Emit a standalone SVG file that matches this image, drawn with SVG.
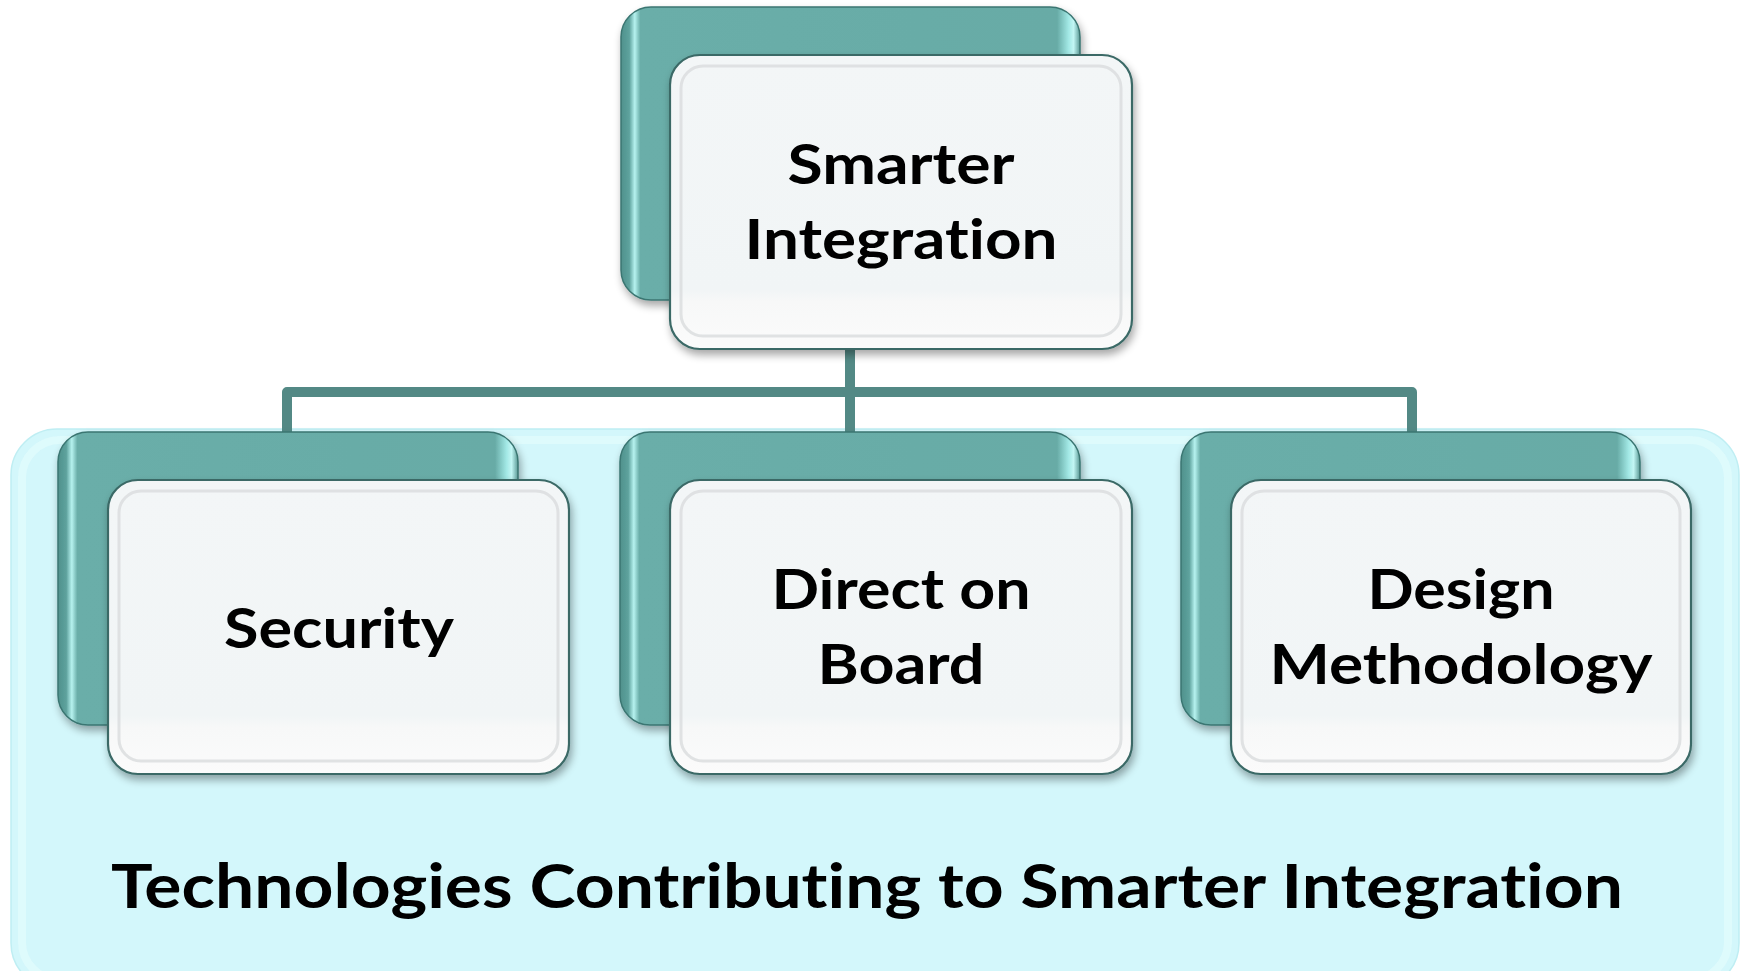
<svg xmlns="http://www.w3.org/2000/svg" width="1743" height="971" viewBox="0 0 1743 971">
<defs>
<linearGradient id="backG" x1="0" y1="0" x2="1" y2="0">
<stop offset="0" stop-color="#4f918c"/>
<stop offset="0.018" stop-color="#5ea29d"/>
<stop offset="0.03" stop-color="#b6f2ef"/>
<stop offset="0.042" stop-color="#6aaea9"/>
<stop offset="0.95" stop-color="#67aba6"/>
<stop offset="0.975" stop-color="#a2e8e5"/>
<stop offset="0.986" stop-color="#c2f6f4"/>
<stop offset="1" stop-color="#5a9995"/>
</linearGradient>
<linearGradient id="frontG" x1="0" y1="0" x2="0" y2="1">
<stop offset="0" stop-color="#f3f6f7"/>
<stop offset="0.8" stop-color="#f1f5f6"/>
<stop offset="0.84" stop-color="#f7f8f8"/>
<stop offset="1" stop-color="#fbfbfb"/>
</linearGradient>
<filter id="sh" x="-10%" y="-10%" width="125%" height="130%">
<feGaussianBlur in="SourceAlpha" stdDeviation="4"/>
<feOffset dx="2" dy="5" result="b"/>
<feComponentTransfer><feFuncA type="linear" slope="0.35"/></feComponentTransfer>
<feMerge><feMergeNode/><feMergeNode in="SourceGraphic"/></feMerge>
</filter>
<style>
.back{fill:url(#backG);stroke:#3b7672;stroke-width:1.5}
.front{fill:url(#frontG);stroke:#3a6966;stroke-width:2.2}
.inner{fill:none;stroke:#d9dcdd;stroke-width:3;opacity:0.8}
.lbl{font-family:Lato,"Open Sans","Liberation Sans",sans-serif;font-weight:700;fill:#000;text-anchor:middle;font-variant-ligatures:none;font-feature-settings:"liga" 0,"clig" 0}
.conn{fill:none;stroke:#538985;stroke-width:10;stroke-linejoin:round}
</style>
</defs>
<rect width="1743" height="971" fill="#ffffff"/>

<g id="panel">
<rect x="11" y="429" width="1728" height="560" rx="46" fill="#d3f7fb" stroke="#bfeef3" stroke-width="1.5"/>
<rect x="22" y="440" width="1706" height="540" rx="38" fill="none" stroke="#e1fbfd" stroke-width="8" opacity="0.8"/>
<text class="lbl" x="867" y="908" font-size="62" textLength="1512" lengthAdjust="spacingAndGlyphs">Technologies Contributing to Smarter Integration</text>
</g>

<g id="connectors">
<line x1="850" y1="300" x2="850" y2="349" stroke="#c9dcdb" stroke-width="10" opacity="0.6"/>
<path class="conn" d="M850 349 V392 M287 432 V392 H1412 V432 M850 392 V432"/>
</g>

<g id="node-smarter-integration">
<rect class="back" x="621" y="7" width="459" height="293" rx="30" filter="url(#sh)"/>
<rect class="front" x="670" y="55" width="462" height="294" rx="30" filter="url(#sh)"/>
<rect class="inner" x="681" y="66" width="440" height="270" rx="22"/>
<text class="lbl" font-size="56" x="901" y="184" textLength="227" lengthAdjust="spacingAndGlyphs">Smarter</text>
<text class="lbl" font-size="56" x="901" y="259" textLength="313" lengthAdjust="spacingAndGlyphs">Integration</text>
</g>

<g id="node-security">
<rect class="back" x="58" y="432" width="460" height="293" rx="30" filter="url(#sh)"/>
<rect class="front" x="108" y="480" width="461" height="294" rx="30" filter="url(#sh)"/>
<rect class="inner" x="119" y="491" width="439" height="270" rx="22"/>
<text class="lbl" font-size="56" x="339" y="648" textLength="230" lengthAdjust="spacingAndGlyphs">Security</text>
</g>

<g id="node-direct-on-board">
<rect class="back" x="620" y="432" width="460" height="293" rx="30" filter="url(#sh)"/>
<rect class="front" x="670" y="480" width="462" height="294" rx="30" filter="url(#sh)"/>
<rect class="inner" x="681" y="491" width="440" height="270" rx="22"/>
<text class="lbl" font-size="56" x="901" y="609" textLength="259" lengthAdjust="spacingAndGlyphs">Direct on</text>
<text class="lbl" font-size="56" x="901" y="684" textLength="167" lengthAdjust="spacingAndGlyphs">Board</text>
</g>

<g id="node-design-methodology">
<rect class="back" x="1181" y="432" width="459" height="293" rx="30" filter="url(#sh)"/>
<rect class="front" x="1231" y="480" width="460" height="294" rx="30" filter="url(#sh)"/>
<rect class="inner" x="1242" y="491" width="438" height="270" rx="22"/>
<text class="lbl" font-size="56" x="1461" y="609" textLength="187" lengthAdjust="spacingAndGlyphs">Design</text>
<text class="lbl" font-size="56" x="1461" y="684" textLength="383" lengthAdjust="spacingAndGlyphs">Methodology</text>
</g>
</svg>
